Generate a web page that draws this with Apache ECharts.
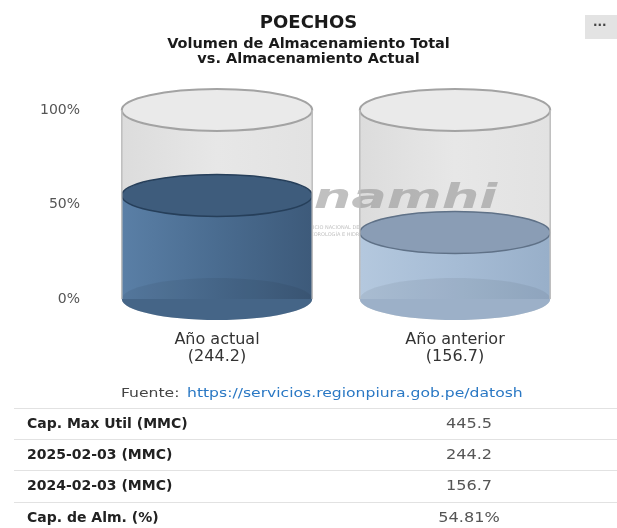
<!DOCTYPE html>
<html>
<head>
<meta charset="utf-8">
<script src="https://cdn.jsdelivr.net/npm/echarts@6/dist/echarts.min.js"></script>
<style>
  html, body { margin: 0; padding: 0; background: #fff; }
  #chart { width: 617px; height: 528px; }
</style>
</head>
<body>
<div id="chart"></div>
<script>
var categories = ['Año actual', 'Año anterior']
var volumes = [244.2, 156.7]
var capMax = 445.5
var yTicks = [0, 50, 100]
var tableLabels = ['Cap. Max Util (MMC)', '2025-02-03 (MMC)', '2024-02-03 (MMC)', 'Cap. de Alm. (%)']
var tableValues = ['445.5', '244.2', '156.7', '54.81%']
var sourceUrl = 'https://servicios.regionpiura.gob.pe/datosh'

var FONT = 'DejaVu Sans'
var percents = volumes.map(function (v) { return v / capMax * 100 })
var fillColors = [
  { body: ['#5a7fa6', '#4a6c90', '#3d5a7a'], top: '#3e5c7c', edge: '#263f5a' },
  { body: ['#b4c8de', '#a6bcd5', '#98afc9'], top: '#8a9db5', edge: '#5f7187' }
]
var RY = 21

function ellipse(cx, cy, rx, ry, style) {
  return { type: 'ellipse', shape: { cx: cx, cy: cy, rx: rx, ry: ry }, style: style }
}

// vaso vacio (capacidad total)
function renderGlass(params, api) {
  var idx = api.value(0)
  var p0 = api.coord([idx, 0])
  var p1 = api.coord([idx, api.value(1)])
  var rx = api.size([1, 0])[0] * 0.4
  var cx = p0[0]
  return {
    type: 'group',
    children: [
      ellipse(cx, p0[1], rx, RY, { fill: '#dedede' }),
      { type: 'rect', shape: { x: cx - rx, y: p1[1], width: rx * 2, height: p0[1] - p1[1] },
        style: { fill: new echarts.graphic.LinearGradient(0, 0, 1, 0, [
          { offset: 0, color: '#dcdcdc' }, { offset: 0.5, color: '#e7e7e7' }, { offset: 1, color: '#e2e2e2' }]) } },
      ellipse(cx, p1[1], rx, RY, { fill: '#eaeaea', stroke: '#a3a3a3', lineWidth: 2 })
    ]
  }
}

// nivel de almacenamiento
function renderFill(params, api) {
  var idx = api.value(0)
  var p0 = api.coord([idx, 0])
  var pv = api.coord([idx, api.value(1)])
  var p1 = api.coord([idx, 100])
  var rx = api.size([1, 0])[0] * 0.4
  var cx = p0[0]
  var c = fillColors[idx]
  return {
    type: 'group',
    children: [
      ellipse(cx, p0[1], rx, RY, { fill: c.body[1] }),
      { type: 'rect', shape: { x: cx - rx, y: pv[1], width: rx * 2, height: p0[1] - pv[1] },
        style: { fill: new echarts.graphic.LinearGradient(0, 0, 1, 0, [
          { offset: 0, color: c.body[0] }, { offset: 0.5, color: c.body[1] }, { offset: 1, color: c.body[2] }]) } },
      ellipse(cx, p0[1], rx, RY, { fill: 'rgba(0,0,0,0.06)' }),
      ellipse(cx, pv[1], rx, RY, { fill: c.top, stroke: c.edge, lineWidth: 1.5 }),
      { type: 'line', shape: { x1: cx - rx, y1: p1[1], x2: cx - rx, y2: p0[1] }, style: { stroke: '#bdbdbd', lineWidth: 1.5 } },
      { type: 'line', shape: { x1: cx + rx, y1: p1[1], x2: cx + rx, y2: p0[1] }, style: { stroke: '#bdbdbd', lineWidth: 1.5 } }
    ]
  }
}

var graphics = [
  { type: 'rect', right: 0, top: 15, shape: { width: 32, height: 24 }, style: { fill: '#e3e3e3' } },
  { type: 'text', left: 593, top: 17, style: { text: '...', fill: '#444', font: 'bold 12px "DejaVu Sans"' } },
  { type: 'text', x: 240, y: 199, scaleX: 1.55, z: 1,
    style: { text: 'Senamhi', fill: 'rgba(150,150,150,0.6)', font: 'italic bold 34px "DejaVu Sans"', verticalAlign: 'middle' } },
  { type: 'text', x: 300, y: 224, z: 1,
    style: { text: 'SERVICIO NACIONAL DE\nMETEOROLOGÍA E HIDROLOGÍA', fill: 'rgba(150,150,150,0.6)', font: '5px "DejaVu Sans"', lineHeight: 7 } },
  { type: 'text', x: 121, y: 394, scaleX: 1.3, style: { text: 'Fuente:', fill: '#444', font: '12px "DejaVu Sans"', verticalAlign: 'middle' } },
  { type: 'text', x: 187, y: 394, scaleX: 1.3, style: { text: sourceUrl, fill: '#2a78c4', font: '12px "DejaVu Sans"', verticalAlign: 'middle' } }
]
var rowY = [424, 455, 486, 518]
tableLabels.forEach(function (lab, i) {
  graphics.push({ type: 'rect', left: 14, top: rowY[i] - 16, shape: { width: 603, height: 1 }, style: { fill: '#e2e2e2' } })
  graphics.push({ type: 'text', x: 27, y: rowY[i], style: { text: lab, fill: '#222', font: 'bold 14px "DejaVu Sans"', verticalAlign: 'middle' } })
  graphics.push({ type: 'text', x: 469, y: rowY[i], scaleX: 1.15, style: { text: tableValues[i], fill: '#555', font: '14px "DejaVu Sans"', align: 'center', verticalAlign: 'middle' } })
})

var chart = echarts.init(document.getElementById('chart'))
chart.setOption({
  animation: false,
  title: {
    text: 'POECHOS',
    subtext: 'Volumen de Almacenamiento Total\nvs. Almacenamiento Actual',
    left: 'center',
    top: 9,
    itemGap: 5,
    textStyle: { fontFamily: FONT, fontSize: 18, fontWeight: 'bold', color: '#1a1a1a' },
    subtextStyle: { fontFamily: FONT, fontSize: 14.5, fontWeight: 'bold', color: '#1a1a1a', lineHeight: 15 }
  },
  grid: { left: 98, right: 43, top: 110, bottom: 229 },
  xAxis: {
    type: 'category',
    data: categories,
    axisLine: { show: false },
    axisTick: { show: false },
    axisLabel: {
      margin: 32,
      fontFamily: FONT,
      fontSize: 16,
      color: '#333',
      lineHeight: 17,
      formatter: function (v, i) { return v + '\n(' + volumes[i] + ')' }
    }
  },
  yAxis: {
    type: 'value',
    min: yTicks[0],
    max: yTicks[yTicks.length - 1],
    interval: yTicks[1] - yTicks[0],
    splitLine: { show: false },
    axisLabel: { margin: 18, fontFamily: FONT, fontSize: 14, color: '#555', formatter: '{value}%' }
  },
  graphic: graphics,
  series: [
    {
      type: 'custom',
      name: 'capacidad',
      z: 0,
      renderItem: renderGlass,
      data: categories.map(function (c, i) { return [i, 100] })
    },
    {
      type: 'custom',
      name: 'almacenamiento',
      z: 5,
      renderItem: renderFill,
      data: percents.map(function (p, i) { return [i, p] })
    }
  ]
})
</script>
</body>
</html>
